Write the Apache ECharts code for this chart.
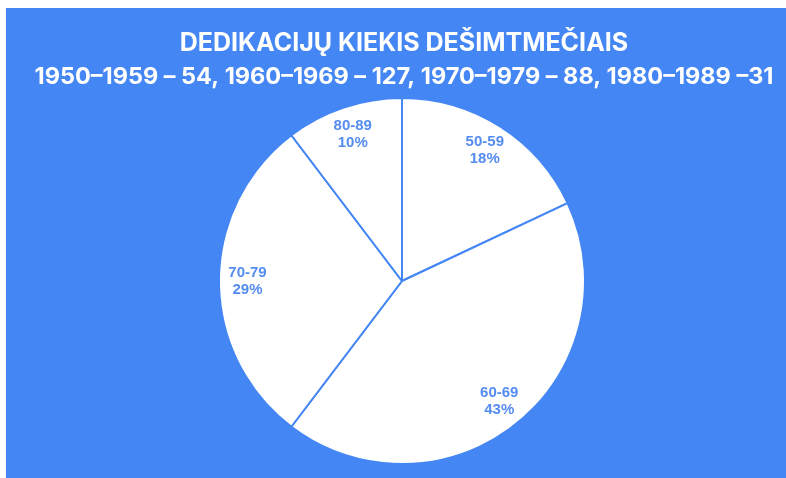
<!DOCTYPE html>
<html>
<head>
<meta charset="utf-8">
<script src="https://cdn.jsdelivr.net/npm/echarts@6/dist/echarts.min.js"></script>
<style>
html, body { margin: 0; padding: 0; background: #ffffff; }
#chart { position: absolute; left: 6px; top: 8px; width: 780px; height: 470px; }
</style>
</head>
<body>
<div id="chart"></div>
<script>
var decades = ['50-59', '60-69', '70-79', '80-89'];
var counts = [54, 127, 88, 31];
var shares = ['18%', '43%', '29%', '10%'];
var titleText = 'DEDIKACIJŲ KIEKIS DEŠIMTMEČIAIS';
var subText = '1950–1959 – 54, 1960–1969 – 127, 1970–1979 – 88, 1980–1989 –31';

var blue = '#4486f4';
var pieData = decades.map(function (d, i) {
    return { name: d, value: counts[i] };
});

var chart = echarts.init(document.getElementById('chart'));
chart.setOption({
    backgroundColor: blue,
    animation: false,
    graphic: [{
        type: 'text',
        x: 398,
        y: 23,
        style: {
            text: titleText,
            fill: '#fff',
            textAlign: 'center',
            font: 'bold 25px Inter'
        }
    }, {
        type: 'text',
        x: 398,
        y: 57,
        style: {
            text: subText,
            fill: '#fff',
            textAlign: 'center',
            font: 'bold 23.5px Inter'
        }
    }],
    series: [{
        type: 'pie',
        center: [396, 273],
        radius: 183,
        startAngle: 90,
        clockwise: true,
        silent: true,
        data: pieData,
        itemStyle: { color: '#fff', borderColor: blue, borderWidth: 2 },
        label: { show: false },
        labelLine: { show: false }
    }, {
        // transparent ring, only used to place labels near the rim
        type: 'pie',
        center: [396, 273],
        radius: [120, 183],
        startAngle: 90,
        clockwise: true,
        silent: true,
        data: pieData,
        itemStyle: { color: 'rgba(0,0,0,0)' },
        label: {
            show: true,
            position: 'inside',
            color: '#558cf0',
            fontSize: 15,
            fontWeight: 'bold',
            lineHeight: 17,
            fontFamily: 'Liberation Sans',
            formatter: function (p) {
                return p.name + '\n' + shares[p.dataIndex];
            }
        },
        labelLine: { show: false }
    }]
});
</script>
</body>
</html>
